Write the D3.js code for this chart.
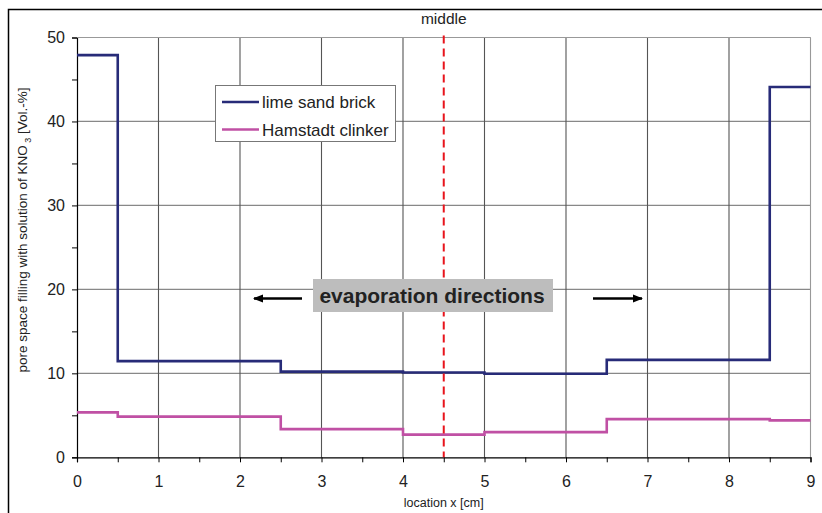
<!DOCTYPE html>
<html>
<head>
<meta charset="utf-8">
<script src="https://cdn.jsdelivr.net/npm/d3@7"></script>
<style>
  body { margin: 0; background: #fff; }
  text { font-family: "Liberation Sans", Arial, sans-serif; fill: #222; }
</style>
</head>
<body>
<div id="chart"></div>
<script>
// step boundaries along the brick (cm)
var edges = [0, 0.5, 2.5, 4, 5, 6.5, 8.5, 9];
// pore space filling per segment [Vol.-%]
var limeSandBrick = [47.9, 11.45, 10.2, 10.1, 9.95, 11.6, 44.1];
var hamstadtClinker = [5.35, 4.85, 3.35, 2.7, 3.0, 4.55, 4.4];

var seriesNames = ["lime sand brick", "Hamstadt clinker"];
var seriesColors = ["#272b78", "#c050a4"];

var xTicks = [0, 1, 2, 3, 4, 5, 6, 7, 8, 9];
var yTicks = [0, 10, 20, 30, 40, 50];
var middleX = 4.5;

var svg = d3.select("#chart").append("svg")
    .attr("width", 822)
    .attr("height", 513);

// outer frame (runs off the picture at the right and bottom)
svg.append("rect")
    .attr("x", 8.5).attr("y", 9.5)
    .attr("width", 830).attr("height", 530)
    .style("fill", "none").style("stroke", "#000").style("stroke-width", 1.5);

var x = d3.scaleLinear().domain([0, 9]).range([77, 810.5]);
var y = d3.scaleLinear().domain([0, 50]).range([457.3, 37.5]);

// gridlines
svg.append("g").selectAll("line").data(yTicks.slice(1))
    .enter().append("line")
    .attr("x1", x(0)).attr("x2", x(9))
    .attr("y1", function (d) { return y(d); })
    .attr("y2", function (d) { return y(d); })
    .style("stroke", "#888").style("stroke-width", 1.2);

svg.append("g").selectAll("line").data(xTicks.slice(1))
    .enter().append("line")
    .attr("x1", function (d) { return x(d); })
    .attr("x2", function (d) { return x(d); })
    .attr("y1", y(0)).attr("y2", y(50))
    .style("stroke", function (d) { return d == 9 ? "#999" : "#555"; })
    .style("stroke-width", 1.1);

// axes
var xAxis = d3.axisBottom(x)
    .tickValues(d3.range(0, 9.01, 0.5))
    .tickSize(5)
    .tickFormat(function (d) { return d % 1 == 0 ? d : ""; });
var gx = svg.append("g")
    .attr("transform", "translate(0," + y(0) + ")")
    .call(xAxis);
gx.select(".domain").style("stroke", "#000").style("stroke-width", 1.2);
gx.selectAll(".tick line").style("stroke", "#000");
gx.selectAll("text")
    .attr("y", 18)
    .style("font-size", "16px")
    .style("font-family", "Liberation Sans, Arial, sans-serif")
    .style("fill", "#222");

var yAxis = d3.axisLeft(y)
    .tickValues(d3.range(0, 50.01, 5))
    .tickSize(5)
    .tickFormat(function (d) { return d % 10 == 0 ? d : ""; });
var gy = svg.append("g")
    .attr("transform", "translate(" + x(0) + ",0)")
    .call(yAxis);
gy.select(".domain").style("stroke", "#000").style("stroke-width", 1.2);
gy.selectAll(".tick line").style("stroke", "#000");
gy.selectAll("text")
    .attr("x", -12)
    .style("font-size", "16px")
    .style("font-family", "Liberation Sans, Arial, sans-serif")
    .style("fill", "#222");

// top edge of the plot
svg.append("line")
    .attr("x1", x(0)).attr("x2", x(9)).attr("y1", y(50)).attr("y2", y(50))
    .style("stroke", "#999").style("stroke-width", 1.2);

// step lines
function stepPoints(values) {
    var pts = [];
    values.forEach(function (v, i) {
        pts.push([edges[i], v]);
        pts.push([edges[i + 1], v]);
    });
    return pts;
}

var line = d3.line()
    .x(function (d) { return x(d[0]); })
    .y(function (d) { return y(d[1]); });

[limeSandBrick, hamstadtClinker].forEach(function (vals, i) {
    svg.append("path")
        .attr("d", line(stepPoints(vals)))
        .style("fill", "none")
        .style("stroke", seriesColors[i])
        .style("stroke-width", 2.6);
});

// middle line
svg.append("line")
    .attr("x1", x(middleX)).attr("x2", x(middleX))
    .attr("y1", y(50) - 2).attr("y2", y(0))
    .style("stroke", "#e8141c").style("stroke-width", 2)
    .style("stroke-dasharray", "8,5");

svg.append("text")
    .attr("x", x(middleX)).attr("y", 24)
    .attr("text-anchor", "middle")
    .style("font-size", "15.5px")
    .text("middle");

// legend
var legend = svg.append("g");
legend.append("rect")
    .attr("x", 215.5).attr("y", 85.5)
    .attr("width", 180).attr("height", 56)
    .style("fill", "#fff").style("stroke", "#777").style("stroke-width", 1);
seriesNames.forEach(function (name, i) {
    var ly = 102 + i * 27.5;
    legend.append("line")
        .attr("x1", 222).attr("x2", 259)
        .attr("y1", ly).attr("y2", ly)
        .style("stroke", seriesColors[i]).style("stroke-width", 2.6);
    legend.append("text")
        .attr("x", 262).attr("y", ly + 6)
        .style("font-size", "17px")
        .text(name);
});

// evaporation label and arrows
svg.append("defs").append("marker")
    .attr("id", "head")
    .attr("viewBox", "0 0 10 10")
    .attr("refX", 9).attr("refY", 5)
    .attr("markerWidth", 4.5).attr("markerHeight", 4.5)
    .attr("orient", "auto")
    .append("path")
    .attr("d", "M0,1 L10,5 L0,9 Z")
    .style("fill", "#000");

svg.append("line")
    .attr("x1", 302).attr("x2", 254).attr("y1", 298.5).attr("y2", 298.5)
    .style("stroke", "#000").style("stroke-width", 2.3)
    .attr("marker-end", "url(#head)");
svg.append("line")
    .attr("x1", 593).attr("x2", 642).attr("y1", 298.5).attr("y2", 298.5)
    .style("stroke", "#000").style("stroke-width", 2.3)
    .attr("marker-end", "url(#head)");

svg.append("rect")
    .attr("x", 313).attr("y", 279)
    .attr("width", 240).attr("height", 33)
    .style("fill", "#bdbdbd");
svg.append("text")
    .attr("x", 432).attr("y", 303)
    .attr("text-anchor", "middle")
    .style("font-size", "21px")
    .style("font-weight", "bold")
    .text("evaporation directions");

// axis titles
svg.append("text")
    .attr("x", x(4.5)).attr("y", 507)
    .attr("text-anchor", "middle")
    .style("font-size", "12.5px")
    .text("location x [cm]");

var yLabel = svg.append("text")
    .attr("transform", "translate(27,230) rotate(-90)")
    .attr("text-anchor", "middle")
    .style("font-size", "13.5px");
yLabel.append("tspan").text("pore space filling with solution of KNO");
yLabel.append("tspan").attr("dy", 4).style("font-size", "9px").text(" 3");
yLabel.append("tspan").attr("dy", -4).text("  [Vol.-%]");
</script>
</body>
</html>
